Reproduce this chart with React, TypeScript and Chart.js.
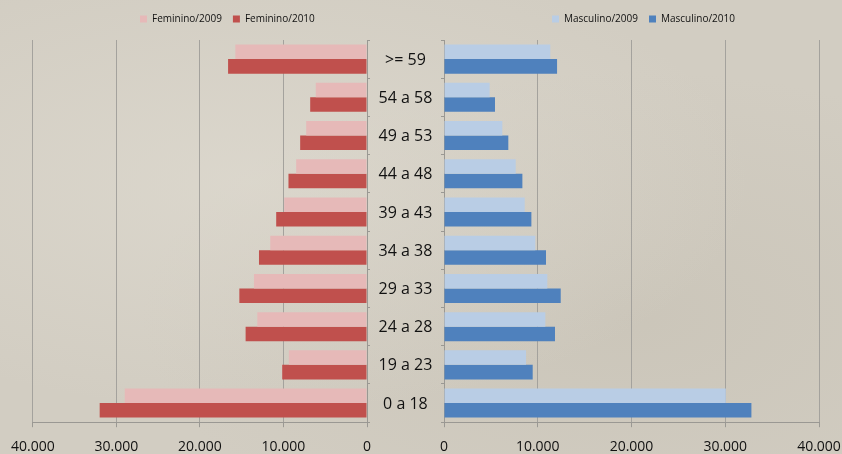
import React, { useEffect, useRef } from "react";
import { Chart, registerables } from "chart.js";

Chart.register(...registerables);

// ---- data ----
const ageGroups = [">= 59", "54 a 58", "49 a 53", "44 a 48", "39 a 43", "34 a 38", "29 a 33", "24 a 28", "19 a 23", "0 a 18"];
const feminino2009 = [15760, 6130, 7280, 8480, 9910, 11580, 13530, 13130, 9350, 29000];
const feminino2010 = [16630, 6800, 8000, 9400, 10870, 12930, 15280, 14530, 10150, 32000];
const masculino2009 = [11340, 4870, 6220, 7650, 8610, 9740, 11020, 10810, 8750, 30060];
const masculino2010 = [12060, 5440, 6860, 8360, 9320, 10880, 12450, 11840, 9460, 32790];
const femLabels = ["Feminino/2009", "Feminino/2010"];
const mascLabels = ["Masculino/2009", "Masculino/2010"];
const axisMax = 40000;
const axisStep = 10000;

// ---- styles ----
const FONT = '"Open Sans", "DejaVu Sans", sans-serif';
const GRID = "#a4a29d";
const AXIS = "#9a9893";
const TEXT = "#111111";
const W = 842;
const H = 454;
const CANVAS_H = 466;

// layout of the two halves (page pixels)
const LEFT_CANVAS_X = 0;
const LEFT_CANVAS_W = 444;
const RIGHT_AXIS_W = 15;
const RIGHT_CANVAS_X = 444 - RIGHT_AXIS_W;
const RIGHT_PAD_R = 34;
const RIGHT_CANVAS_W = 819 + RIGHT_PAD_R - RIGHT_CANVAS_X;

const fmt = (v: number | string) =>
  String(Math.round(Number(v))).replace(/\B(?=(\d{3})+(?!\d))/g, ".");

const legendPlacer = (firstBoxX: number, extra: number) => ({
  id: "legendPlacer",
  beforeLayout(chart: any) {
    const lg = chart.legend;
    if (lg && !lg.__patched) {
      const fit = lg.fit.bind(lg);
      lg.fit = function () {
        fit();
        this.height += extra;
      };
      lg.__patched = true;
    }
  },
  afterLayout(chart: any) {
    const lg = chart.legend;
    if (!lg) return;
    const pad = lg.options.labels.padding;
    const w = lg.right - lg.left;
    lg.left = firstBoxX - pad;
    lg.right = lg.left + w;
  },
});

function makeConfig(side: "left" | "right"): any {
  const isLeft = side === "left";
  const labels = isLeft ? femLabels : mascLabels;
  const d1 = isLeft ? feminino2009 : masculino2009;
  const d2 = isLeft ? feminino2010 : masculino2010;
  const c1 = isLeft ? "#e6b9b8" : "#b9cde5";
  const c2 = isLeft ? "#c0504d" : "#4f81bd";
  const common = { borderWidth: 0, barPercentage: 1, categoryPercentage: 0.76 };
  return {
    type: "bar",
    data: {
      labels: ageGroups,
      datasets: [
        { label: labels[0], data: d1, backgroundColor: c1, ...common },
        { label: labels[1], data: d2, backgroundColor: c2, ...common },
      ],
    },
    options: {
      indexAxis: "y",
      responsive: false,
      animation: false,
      layout: {
        padding: isLeft
          ? { left: 32, right: 0, top: 3, bottom: 0 }
          : { left: 0, right: RIGHT_PAD_R, top: 3, bottom: 0 },
      },
      plugins: {
        legend: {
          position: "top",
          align: "start",
          labels: { boxWidth: 7, boxHeight: 7, padding: 11, color: TEXT, font: { family: FONT, size: 10 } },
        },
        tooltip: { enabled: false },
      },
      scales: {
        x: {
          type: "linear",
          reverse: isLeft,
          min: 0,
          max: axisMax,
          ticks: {
            stepSize: axisStep,
            callback: fmt,
            padding: 11,
            color: TEXT,
            maxRotation: 0,
            autoSkip: false,
            font: { family: FONT, size: 14 },
          },
          grid: { color: GRID, tickColor: AXIS, tickLength: 5, drawTicks: true },
          border: { color: AXIS },
        },
        y: {
          position: isLeft ? "right" : "left",
          ticks: isLeft
            ? { display: true, crossAlign: "center", padding: 8.5, labelOffset: 1, color: TEXT, font: { family: FONT, size: 16 } }
            : { display: false },
          grid: { drawOnChartArea: false, drawTicks: true, tickLength: 3, color: AXIS, offset: true },
          border: { color: AXIS },
          afterFit: (s: any) => {
            s.width = isLeft ? 77 : RIGHT_AXIS_W;
          },
        },
      },
    },
    plugins: [legendPlacer(isLeft ? 140 - LEFT_CANVAS_X : 552 - RIGHT_CANVAS_X, 6)],
  };
}

function PyramidHalf({ side, left, width }: { side: "left" | "right"; left: number; width: number }) {
  const ref = useRef<HTMLCanvasElement | null>(null);
  useEffect(() => {
    if (!ref.current) return;
    const chart = new Chart(ref.current, makeConfig(side));
    return () => chart.destroy();
  }, [side]);
  return (
    <canvas
      ref={ref}
      width={width}
      height={CANVAS_H}
      style={{ position: "absolute", left, top: 0, width, height: CANVAS_H }}
    />
  );
}

export default function App() {
  return (
    <div
      style={{
        position: "absolute",
        left: 0,
        top: 0,
        width: W,
        height: H,
        overflow: "hidden",
        background:
          "radial-gradient(ellipse at 30% 40%, rgba(225,221,211,0.6), rgba(0,0,0,0) 60%), radial-gradient(ellipse at 75% 70%, rgba(190,184,170,0.35), rgba(0,0,0,0) 55%), #d2cdc2",
      }}
    >
      <PyramidHalf side="left" left={LEFT_CANVAS_X} width={LEFT_CANVAS_W} />
      <PyramidHalf side="right" left={RIGHT_CANVAS_X} width={RIGHT_CANVAS_W} />
    </div>
  );
}
